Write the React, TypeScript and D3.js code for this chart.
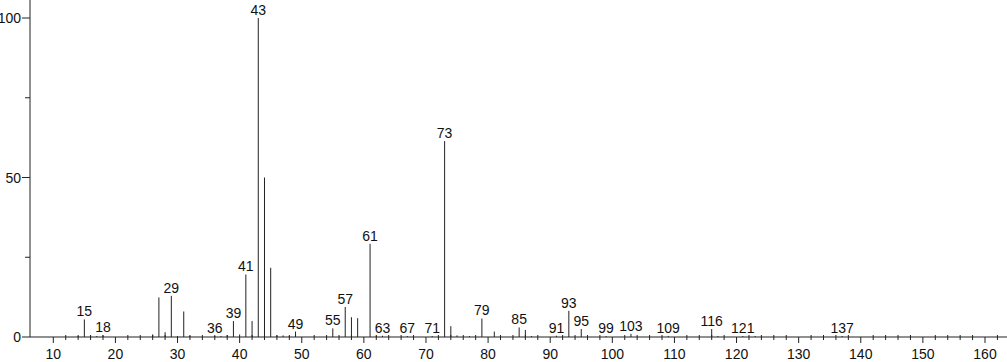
import React from 'react';
import * as d3 from 'd3';

// m/z values and relative intensities
const mz = [14, 15, 16, 17, 18, 26, 27, 28, 29, 30, 31, 32, 36, 37, 38, 39, 40, 41, 42, 43, 44, 45, 46, 47, 48, 49, 55, 57, 58, 59, 61, 62, 63, 67, 71, 73, 74, 75, 77, 79, 81, 85, 86, 87, 91, 93, 95, 99, 103, 109, 116, 117, 121, 123, 137];
const intensity = [0.3, 5.5, 0.5, 0.3, 0.5, 0.8, 12.4, 1.5, 12.9, 0.3, 8.0, 0.4, 0.3, 0.3, 0.6, 5.0, 0.8, 19.6, 5.0, 100, 50, 21.7, 0.5, 0.5, 0.3, 1.7, 2.7, 9.4, 6.2, 5.9, 29.2, 0.4, 0.4, 0.3, 0.3, 61.4, 3.4, 0.5, 0.3, 5.8, 1.7, 3.0, 2.2, 0.3, 0.4, 8.2, 2.5, 0.3, 1.0, 0.3, 2.5, 0.3, 0.3, 0.3, 0.3];
const labelled = [15, 18, 29, 36, 39, 41, 43, 49, 55, 57, 61, 63, 67, 71, 73, 79, 85, 91, 93, 95, 99, 103, 109, 116, 121, 137];
const xTicks = [10, 20, 30, 40, 50, 60, 70, 80, 90, 100, 110, 120, 130, 140, 150, 160];
const yTicks = [0, 50, 100];

export default function App() {
  const width = 1007;
  const height = 362;
  const left = 30;
  const bottom = 337;

  const x = d3.scaleLinear().domain([10, 160]).range([53.3, 985]);
  const y = d3.scaleLinear().domain([0, 100]).range([bottom, 18]);
  const minor = d3.range(12, 164, 2).filter(v => v % 10 !== 0);
  const yMinor = [25, 75];
  const font = 'Liberation Sans, Arial, sans-serif';
  const ink = '#222';

  const peak = (m: number) => intensity[mz.indexOf(m)] || 0;

  return (
    <svg width={width} height={height} style={{ position: 'absolute', left: 0, top: 0, background: '#fff' }}>
      {/* peaks */}
      {mz.map((m, i) => (
        <line key={'p' + m} x1={x(m)} x2={x(m)} y1={bottom} y2={y(intensity[i])} stroke={ink} strokeWidth={1} />
      ))}
      {labelled.map(m => (
        <text key={'l' + m} x={x(m)} y={y(peak(m)) - 3} textAnchor="middle" fontFamily={font} fontSize={14} fill="#111">
          {m}
        </text>
      ))}
      {/* axes */}
      <line x1={left} x2={width} y1={bottom} y2={bottom} stroke={ink} />
      <line x1={left} x2={left} y1={0} y2={bottom} stroke={ink} />
      {minor.map(v => (
        <line key={'m' + v} x1={x(v)} x2={x(v)} y1={bottom - 2} y2={bottom + 3} stroke={ink} />
      ))}
      {xTicks.map(v => (
        <g key={'x' + v}>
          <line x1={x(v)} x2={x(v)} y1={bottom} y2={bottom + 6} stroke={ink} />
          <text x={x(v)} y={359} textAnchor="middle" fontFamily={font} fontSize={14} fill="#111">{v}</text>
        </g>
      ))}
      {yMinor.map(v => (
        <line key={'ym' + v} x1={left - 5} x2={left} y1={y(v)} y2={y(v)} stroke={ink} />
      ))}
      {yTicks.map(v => (
        <g key={'y' + v}>
          <line x1={left - 8} x2={left} y1={y(v)} y2={y(v)} stroke={ink} />
          <text x={left - 9} y={y(v) + 5} textAnchor="end" fontFamily={font} fontSize={14} fill="#111">{v}</text>
        </g>
      ))}
    </svg>
  );
}
